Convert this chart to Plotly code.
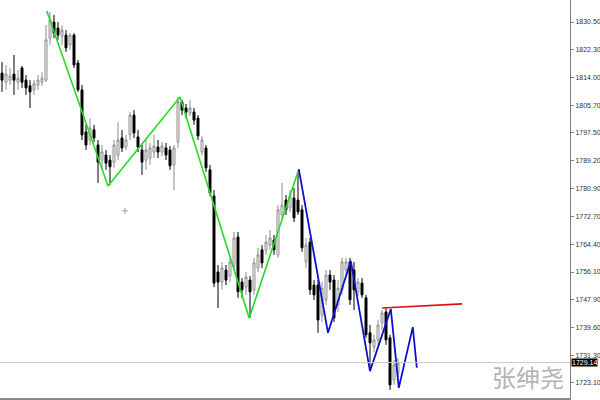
import plotly.graph_objects as go

# Candle OHLC data (bar index 0..99)
opens = [1815.3, 1812.6, 1813.2, 1815.0, 1812.6, 1816.8, 1813.2, 1811.5, 1810.3, 1811.8,
         1812.6, 1813.2, 1825.7, 1830.5, 1828.7, 1826.3, 1826.6, 1823.7, 1826.6, 1818.3,
         1810.3, 1797.8, 1795.4, 1798.4, 1793.9, 1789.4, 1790.9, 1789.4, 1788.8, 1790.9,
         1796.0, 1793.3, 1796.9, 1802.8, 1796.3, 1792.4, 1789.4, 1790.0, 1791.8, 1793.3,
         1791.8, 1793.0, 1792.4, 1788.0, 1794.8, 1806.7, 1804.9, 1803.4, 1803.7, 1801.9,
         1791.8, 1793.0, 1786.5, 1778.7, 1756.1, 1753.1, 1756.7, 1754.9, 1757.9, 1766.5,
         1753.1, 1751.6, 1753.7, 1750.8, 1757.3, 1762.7, 1762.7, 1764.1, 1765.6, 1761.2,
         1773.1, 1777.5, 1775.2, 1778.1, 1777.5, 1774.6, 1759.1, 1765.0, 1752.2, 1752.2,
         1743.3, 1747.8, 1755.2, 1753.7, 1746.3, 1750.8, 1756.7, 1759.1, 1756.7, 1750.2,
         1752.8, 1748.4, 1738.0, 1733.8, 1735.9, 1741.0, 1744.2, 1736.5, 1724.0, 1726.0]
highs = [1818.6, 1817.7, 1816.8, 1820.7, 1816.2, 1817.4, 1814.7, 1813.2, 1813.2, 1814.7,
         1815.6, 1829.6, 1833.5, 1832.6, 1830.5, 1829.6, 1828.1, 1827.2, 1827.2, 1819.2,
         1811.8, 1799.9, 1801.9, 1799.9, 1795.4, 1793.9, 1792.4, 1790.9, 1795.4, 1800.7,
         1798.4, 1796.9, 1803.7, 1804.3, 1798.4, 1793.9, 1795.4, 1794.5, 1796.9, 1795.4,
         1794.8, 1794.5, 1793.6, 1793.9, 1808.2, 1807.3, 1806.1, 1807.3, 1804.9, 1802.8,
         1796.6, 1793.9, 1788.0, 1780.5, 1758.2, 1759.1, 1758.2, 1760.3, 1768.0, 1768.0,
         1754.3, 1756.1, 1754.9, 1760.3, 1763.3, 1764.1, 1767.1, 1768.6, 1767.1, 1776.0,
         1782.6, 1779.0, 1780.5, 1781.1, 1785.9, 1776.0, 1766.2, 1766.2, 1753.7, 1753.7,
         1753.1, 1756.7, 1756.7, 1755.2, 1753.7, 1760.3, 1760.3, 1760.3, 1759.1, 1754.3,
         1754.3, 1749.3, 1740.3, 1737.4, 1741.8, 1744.8, 1745.4, 1737.4, 1729.9, 1730.5]
lows = [1809.7, 1810.3, 1811.8, 1808.8, 1810.3, 1810.9, 1808.8, 1804.9, 1808.8, 1810.3,
        1811.5, 1812.6, 1823.7, 1825.7, 1825.2, 1823.7, 1821.6, 1822.2, 1816.8, 1809.7,
        1795.4, 1792.4, 1793.9, 1794.8, 1782.6, 1787.1, 1786.5, 1782.0, 1787.1, 1789.4,
        1791.8, 1792.4, 1795.4, 1796.0, 1791.8, 1785.0, 1786.5, 1788.0, 1790.0, 1790.0,
        1790.6, 1789.4, 1786.5, 1780.5, 1793.0, 1802.8, 1801.9, 1802.5, 1799.9, 1795.4,
        1790.9, 1785.9, 1778.7, 1751.6, 1745.4, 1750.8, 1752.2, 1753.1, 1756.7, 1748.4,
        1748.4, 1749.3, 1742.4, 1749.3, 1756.1, 1757.3, 1761.2, 1762.7, 1761.2, 1760.3,
        1772.2, 1773.1, 1774.0, 1771.0, 1773.1, 1762.1, 1757.3, 1749.3, 1747.8, 1738.0,
        1741.2, 1746.3, 1750.8, 1741.2, 1744.2, 1749.3, 1755.2, 1746.3, 1744.8, 1749.0,
        1748.4, 1736.5, 1727.0, 1732.3, 1734.4, 1738.8, 1734.4, 1721.0, 1722.5, 1724.6]
closes = [1813.2, 1815.0, 1814.4, 1813.2, 1813.8, 1812.6, 1810.9, 1809.7, 1812.1, 1813.2,
          1813.8, 1825.2, 1831.1, 1827.2, 1826.6, 1828.1, 1822.8, 1826.6, 1817.7, 1810.3,
          1796.9, 1793.9, 1799.0, 1796.0, 1788.8, 1791.8, 1788.5, 1787.4, 1793.9, 1795.4,
          1793.0, 1795.4, 1802.8, 1797.5, 1793.3, 1788.8, 1792.4, 1793.0, 1793.6, 1791.8,
          1793.6, 1790.9, 1787.7, 1793.0, 1806.7, 1804.3, 1803.7, 1804.9, 1801.3, 1796.6,
          1795.4, 1787.1, 1779.6, 1752.8, 1753.1, 1757.3, 1753.7, 1759.1, 1766.2, 1750.2,
          1750.8, 1754.6, 1750.2, 1758.8, 1761.2, 1758.8, 1765.0, 1766.2, 1762.7, 1774.6,
          1776.0, 1774.6, 1778.7, 1772.2, 1774.0, 1763.3, 1764.1, 1750.8, 1749.3, 1741.8,
          1751.3, 1755.2, 1753.1, 1742.4, 1751.3, 1759.1, 1759.1, 1747.8, 1750.8, 1753.1,
          1749.3, 1737.4, 1735.0, 1735.9, 1740.3, 1743.9, 1735.9, 1722.5, 1728.4, 1729.14]
bar_index = list(range(len(opens)))

# Zigzag overlays (bar index, price)
green_x = [11.2, 26.5, 44.5, 61.8, 74.2]
green_y = [1833.8, 1781.7, 1808.2, 1742.4, 1786.7]
blue_x = [74.2, 81.5, 87.2, 92.0, 97.2, 99.2, 102.7, 103.7]
blue_y = [1786.7, 1738.0, 1759.4, 1726.6, 1745.1, 1721.6, 1739.7, 1727.6]
red_x = [95.0, 115.0]
red_y = [1745.4, 1746.6]

# small cursor mark
mark_x = [30.75]
mark_y = [1774.3]

last_price = 1729.14
tick_vals = [1723.10, 1731.30, 1739.60, 1747.90, 1756.10, 1764.40, 1772.70,
             1780.90, 1789.20, 1797.50, 1805.70, 1814.00, 1822.30, 1830.50]
tick_text = ["%.2f" % v for v in tick_vals]
watermark = "张绅尧"
watermark_x = 131.4     # bar-index position of watermark centre
watermark_y = 1725.0    # price position of watermark centre

fig = go.Figure()
fig.add_trace(go.Candlestick(
    x=bar_index, open=opens, high=highs, low=lows, close=closes,
    increasing=dict(line=dict(color="#8c8c8c", width=1), fillcolor="#ffffff"),
    decreasing=dict(line=dict(color="#000000", width=1), fillcolor="#000000"),
    whiskerwidth=0, showlegend=False, hoverinfo="skip",
))
fig.add_trace(go.Scatter(x=green_x, y=green_y, mode="lines",
                         line=dict(color="#22dd22", width=1.6), showlegend=False, hoverinfo="skip"))
fig.add_trace(go.Scatter(x=blue_x, y=blue_y, mode="lines",
                         line=dict(color="#1010c8", width=1.8), showlegend=False, hoverinfo="skip"))
fig.add_trace(go.Scatter(x=red_x, y=red_y, mode="lines",
                         line=dict(color="#e01010", width=1.6), showlegend=False, hoverinfo="skip"))
fig.add_trace(go.Scatter(x=mark_x, y=mark_y, mode="markers",
                         marker=dict(symbol="cross-thin", size=4, line=dict(color="#9a9a9a", width=1)),
                         showlegend=False, hoverinfo="skip"))

fig.add_hline(y=last_price, line=dict(color="#c8c8c8", width=1))

fig.add_annotation(x=1.0, xref="paper", y=last_price, yref="y", text="%.2f" % last_price,
                   showarrow=False, xanchor="left", yanchor="middle", xshift=1,
                   font=dict(family="Liberation Sans", size=7, color="#ffffff"),
                   bgcolor="#000000", borderpad=0)
fig.add_annotation(x=watermark_x, xref="x", y=watermark_y, yref="y",
                   text=watermark, showarrow=False,
                   font=dict(family="Noto Sans CJK SC", size=24, color="#b4b4b4"),
                   xanchor="center", yanchor="middle")

fig.update_layout(
    width=600, height=400,
    margin=dict(l=0, r=30, t=0, b=2),
    paper_bgcolor="#ffffff", plot_bgcolor="#ffffff",
    xaxis=dict(range=[-0.5, 142], showgrid=False, zeroline=False, showticklabels=False,
               rangeslider=dict(visible=False), showline=True, linecolor="#8a8a8a", linewidth=2,
               fixedrange=True),
    yaxis=dict(range=[1718.6, 1837.05], side="right", showgrid=False, zeroline=False,
               tickvals=tick_vals, ticktext=tick_text, ticks="outside", ticklen=3,
               tickcolor="#808080", showline=True, linecolor="#808080", linewidth=1,
               automargin=False,
               tickfont=dict(family="Liberation Sans", size=7, color="#333333")),
    hovermode=False,
)

fig.write_html("out.html", config={"displayModeBar": False},
               post_script="document.body.style.margin='0';document.body.style.padding='0';")
